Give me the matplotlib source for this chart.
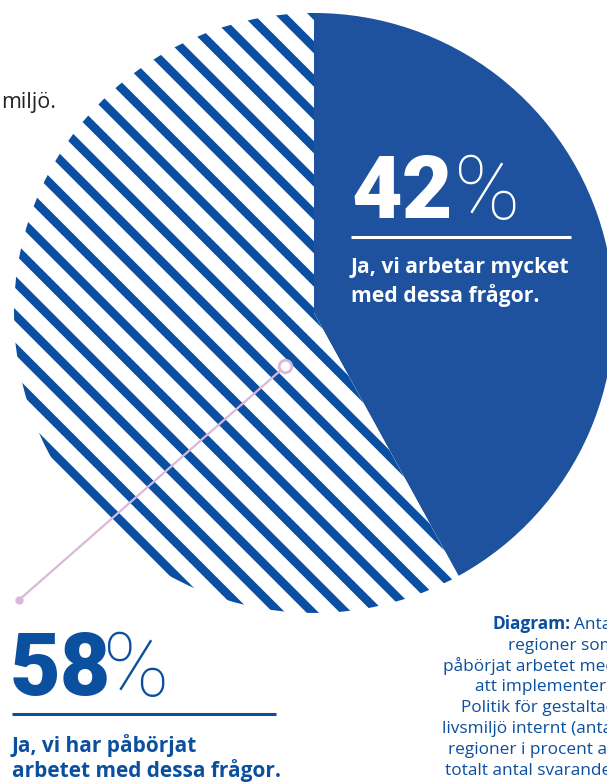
import matplotlib
matplotlib.use("Agg")
import matplotlib.pyplot as plt

# data
shares = [42, 58]
share_numbers = ["42", "58"]
share_texts = [["Ja, vi arbetar mycket", "med dessa frågor."],
               ["Ja, vi har påbörjat", "arbetet med dessa frågor."]]
caption_head = "Diagram:"
caption_lines = ["Antal", "regioner som", "påbörjat arbetet med", "att implementera",
                 "Politik för gestaltad", "livsmiljö internt (antal",
                 "regioner i procent av", "totalt antal svarande)"]
intro_tail = "miljö."

solid_blue = "#1e519e"
stripe_blue = "#0b4fa2"
text_blue = "#0b4f9f"
pink = "#d9b8d9"

plt.rcParams["font.family"] = ["Open Sans", "DejaVu Sans"]
plt.rcParams["hatch.linewidth"] = 6.2
plt.rcParams["hatch.color"] = stripe_blue

num_font = ["Roboto", "DejaVu Sans"]

fig = plt.figure(figsize=(6.07, 7.84), dpi=100)
ax = fig.add_axes([0, 0, 1, 1])

# pie, drawn in pixel-like coords (y axis inverted below)
wedges, _ = ax.pie(shares, center=(314, 313), radius=300, startangle=-90,
                   counterclock=True, colors=[solid_blue, "white"],
                   wedgeprops=dict(linewidth=0))
wedges[1].set_edgecolor(stripe_blue)
wedges[1].set_hatch("\\")

ax.set_xlim(0, 607)
ax.set_ylim(784, 0)
ax.axis("off")

# connector from the striped slice to its label
ax.plot([19, 281], [600, 370], color=pink, lw=1.6, solid_capstyle="round")
ax.plot(285, 366, "o", ms=9, mfc="white", mec=pink, mew=2)
ax.plot(19, 600, "o", ms=5, color=pink)

# 42 % label, inside the solid slice
ax.text(351, 218, share_numbers[0], color="white", fontsize=63, fontweight="black",
        family=num_font, va="baseline", ha="left")
ax.text(454, 219, "%", color="white", fontsize=64, fontweight="light",
        family=num_font, va="baseline", ha="left")
ax.plot([351, 571], [237, 237], color="white", lw=2.2, solid_capstyle="butt")
for i, line in enumerate(share_texts[0]):
    ax.text(351, 273 + i * 29, line, color="white", fontsize=15.2, fontweight="bold",
            va="baseline", ha="left")

# 58 % label, below the pie
ax.text(10, 695, share_numbers[1], color=text_blue, fontsize=63, fontweight="black",
        family=num_font, va="baseline", ha="left")
ax.text(103, 696, "%", color=text_blue, fontsize=64, fontweight="light",
        family=num_font, va="baseline", ha="left")
ax.plot([12, 276], [714, 714], color=text_blue, lw=2.2, solid_capstyle="butt")
for i, line in enumerate(share_texts[1]):
    ax.text(12, 752 + i * 25, line, color=text_blue, fontsize=15, fontweight="bold",
            va="baseline", ha="left")

# caption, right aligned past the edge of the picture
renderer = fig.canvas.get_renderer()
for i, line in enumerate(caption_lines):
    t = ax.text(616, 629 + i * 20.8, line, color=text_blue, fontsize=12.4,
                va="baseline", ha="right")
    if i == 0:
        bb = t.get_window_extent(renderer)
        x_left = ax.transData.inverted().transform((bb.x0, bb.y0))[0]
        ax.text(x_left - 4, 629, caption_head, color=text_blue, fontsize=12.4,
                fontweight="bold", va="baseline", ha="right")

# tail of the intro sentence, cut by the left edge
ax.text(1, 108, intro_tail, color="#222222", fontsize=15.5, va="baseline", ha="left")

fig.savefig("out.png", dpi=100)
